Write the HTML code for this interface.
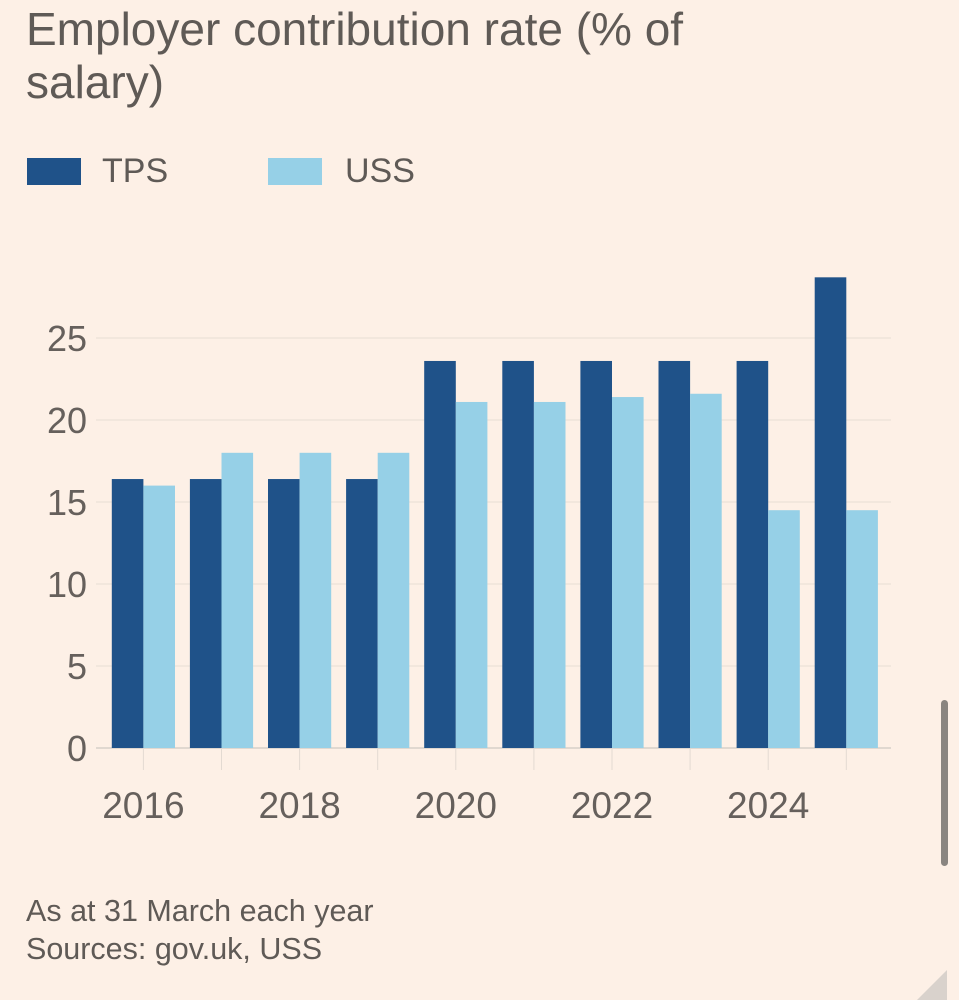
<!DOCTYPE html>
<html><head><meta charset="utf-8"><style>
body{margin:0;width:959px;height:1000px;background:#fdf0e6;font-family:"Liberation Sans",sans-serif;overflow:hidden;position:relative;color:#66605c}
.t{position:absolute;left:26px;top:3px;font-size:46px;line-height:53px;color:#5f5a56;width:720px}
.lg{position:absolute;top:158px;width:54px;height:27px}
.lt{position:absolute;top:152px;font-size:34px;color:#5f5a56}
.note{position:absolute;left:26px;font-size:30.5px;color:#5f5a56}
</style></head><body>
<div class="t">Employer contribution rate (% of salary)</div>
<div class="lg" style="left:27px;background:#1f5289"></div>
<div class="lt" style="left:102px">TPS</div>
<div class="lg" style="left:268px;background:#96d0e7"></div>
<div class="lt" style="left:345px">USS</div>
<svg id="c" width="959" height="1000" style="position:absolute;left:0;top:0"></svg>
<div class="note" style="top:894px">As at 31 March each year</div>
<div class="note" style="top:932px">Sources: gov.uk, USS</div>
<div style="position:absolute;left:941px;top:700px;width:7px;height:166px;border-radius:4px;background:#8a8580"></div>
<svg width="40" height="30" style="position:absolute;left:917px;top:970px"><polygon points="0,30 30,0 30,30" fill="#d9d2cc"/></svg>
<script>
const years=[2016,2017,2018,2019,2020,2021,2022,2023,2024,2025];
const tps=[16.4,16.4,16.4,16.4,23.6,23.6,23.6,23.6,23.6,28.7];
const uss=[16.0,18.0,18.0,18.0,21.1,21.1,21.4,21.6,14.5,14.5];
const yTicks=[0,5,10,15,20,25];
const xLabels=[2016,2018,2020,2022,2024];
const svg=document.getElementById('c');const NS='http://www.w3.org/2000/svg';
function y(v){return 748-v*16.4;}
function xc(i){return 143.4+i*78.1;}
function mk(t,a){const e=document.createElementNS(NS,t);for(const k in a)e.setAttribute(k,a[k]);svg.appendChild(e);return e;}
yTicks.forEach(v=>{
  const l=mk('line',{x1:96,x2:891,y1:y(v),y2:y(v),stroke:v===0?'#e0d8d0':'#efe4da','stroke-width':v===0?2:1.5});
  
  
  const t=mk('text',{x:87,y:y(v)+13,'text-anchor':'end','font-size':36,fill:'#66605c','font-family':'Liberation Sans, sans-serif'});
  t.textContent=v;
  
  
});
years.forEach((yr,i)=>{
  const c=xc(i);
  const tk=mk('line',{x1:c,x2:c,y1:748,y2:770,stroke:'#e3dad2','stroke-width':1});
  
  
  const b1=mk('rect',{x:c-31.6,y:y(tps[i]),width:31.6,height:tps[i]*16.4,fill:'#1f5289'});
  
  
  const b2=mk('rect',{x:c,y:y(uss[i]),width:31.6,height:uss[i]*16.4,fill:'#96d0e7'});
  
  
  if(xLabels.includes(yr)){
    const t=mk('text',{x:c,y:818,'text-anchor':'middle','font-size':37,fill:'#66605c','font-family':'Liberation Sans, sans-serif'});
    t.textContent=yr;
    
    
  }
});
</script>
</body></html>
